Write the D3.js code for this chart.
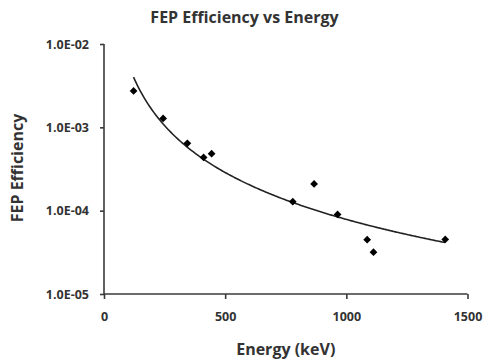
<!DOCTYPE html>
<html>
<head>
<meta charset="utf-8">
<script src="https://cdn.jsdelivr.net/npm/d3@7"></script>
<style>
  html, body { margin: 0; padding: 0; background: #fff; }
  svg { display: block; }
  text { font-family: "Open Sans", "Liberation Sans", sans-serif; font-weight: bold; fill: #333; }
</style>
</head>
<body>
<svg id="chart" width="484" height="361"></svg>
<script>
// ---- data ----
const energies = [122, 244, 344, 411, 444, 779, 867, 964, 1086, 1112, 1408];
const efficiencies = [2.73e-3, 1.28e-3, 6.43e-4, 4.36e-4, 4.82e-4, 1.28e-4, 2.09e-4, 9.0e-5, 4.48e-5, 3.18e-5, 4.52e-5];
const xTicks = [0, 500, 1000, 1500];
const yTicks = [1e-5, 1e-4, 1e-3, 1e-2];
const chartTitle = "FEP Efficiency vs Energy";
const xTitle = "Energy (keV)";
const yTitle = "FEP Efficiency";

(function () {
const svg = d3.select("#chart");
const mLeft = 104, mRight = 467.5, mTop = 44, mBottom = 294;

const x = d3.scaleLinear().domain([0, 1500]).range([mLeft, mRight]);
const y = d3.scaleLog().domain([1e-5, 1e-2]).range([mBottom, mTop]);

const fmtE = d => {
  const e = Math.round(Math.log10(d));
  const m = d / Math.pow(10, e);
  const sign = e < 0 ? "-" : "+";
  return m.toFixed(1) + "E" + sign + String(Math.abs(e)).padStart(2, "0");
};

// axes
const xAxis = svg.append("g").attr("transform", `translate(0,${mBottom})`)
  .call(d3.axisBottom(x).tickValues(xTicks).tickSize(5).tickPadding(13).tickFormat(d3.format("d")));
const yAxis = svg.append("g").attr("transform", `translate(${mLeft},0)`)
  .call(d3.axisLeft(y).tickValues(yTicks).tickSize(4).tickPadding(11).tickFormat(fmtE));

[xAxis, yAxis].forEach(a => {
  a.selectAll(".domain").attr("stroke", "#3a3a3a").attr("stroke-width", 1.6);
  a.selectAll(".tick line").attr("stroke", "#3a3a3a").attr("stroke-width", 1.6);
  a.selectAll(".tick text").attr("fill", "#333")
    .style("font-family", '"Open Sans", sans-serif').style("font-weight", "bold").style("font-size", "12.5px");
});
xAxis.select(".domain").attr("d", `M${mLeft},0H${mRight}`);
yAxis.select(".domain").attr("d", `M0,${mBottom}V${mTop}`);

// power-law trendline (least-squares fit in log-log space, as a spreadsheet trendline does)
const lx = energies.map(Math.log10), ly = efficiencies.map(Math.log10);
const mx = d3.mean(lx), my = d3.mean(ly);
const b = d3.sum(lx.map((v, i) => (v - mx) * (ly[i] - my))) / d3.sum(lx.map(v => (v - mx) ** 2));
const a = my - b * mx;
const [eMin, eMax] = d3.extent(energies);
const fitE = d3.range(0, 201).map(i => eMin + (eMax - eMin) * i / 200);
const line = d3.line().x(d => x(d)).y(d => y(Math.pow(10, a + b * Math.log10(d))));
svg.append("path").datum(fitE).attr("d", line)
  .attr("fill", "none").attr("stroke", "#222").attr("stroke-width", 1.6);

// markers
svg.append("g").selectAll("path").data(energies).join("path")
  .attr("d", d3.symbol().type(d3.symbolSquare).size(30))
  .attr("transform", (d, i) => `translate(${x(d)},${y(efficiencies[i])}) rotate(45)`)
  .attr("fill", "#000");

// titles
svg.append("text").attr("x", 244.5).attr("y", 23).attr("text-anchor", "middle")
  .style("font-size", "16px").text(chartTitle);
svg.append("text").attr("x", (mLeft + mRight) / 2).attr("y", 355).attr("text-anchor", "middle")
  .style("font-size", "16px").text(xTitle);
svg.append("text").attr("transform", "translate(23,168) rotate(-90)").attr("text-anchor", "middle")
  .style("font-size", "16px").text(yTitle);
})();
</script>
</body>
</html>
